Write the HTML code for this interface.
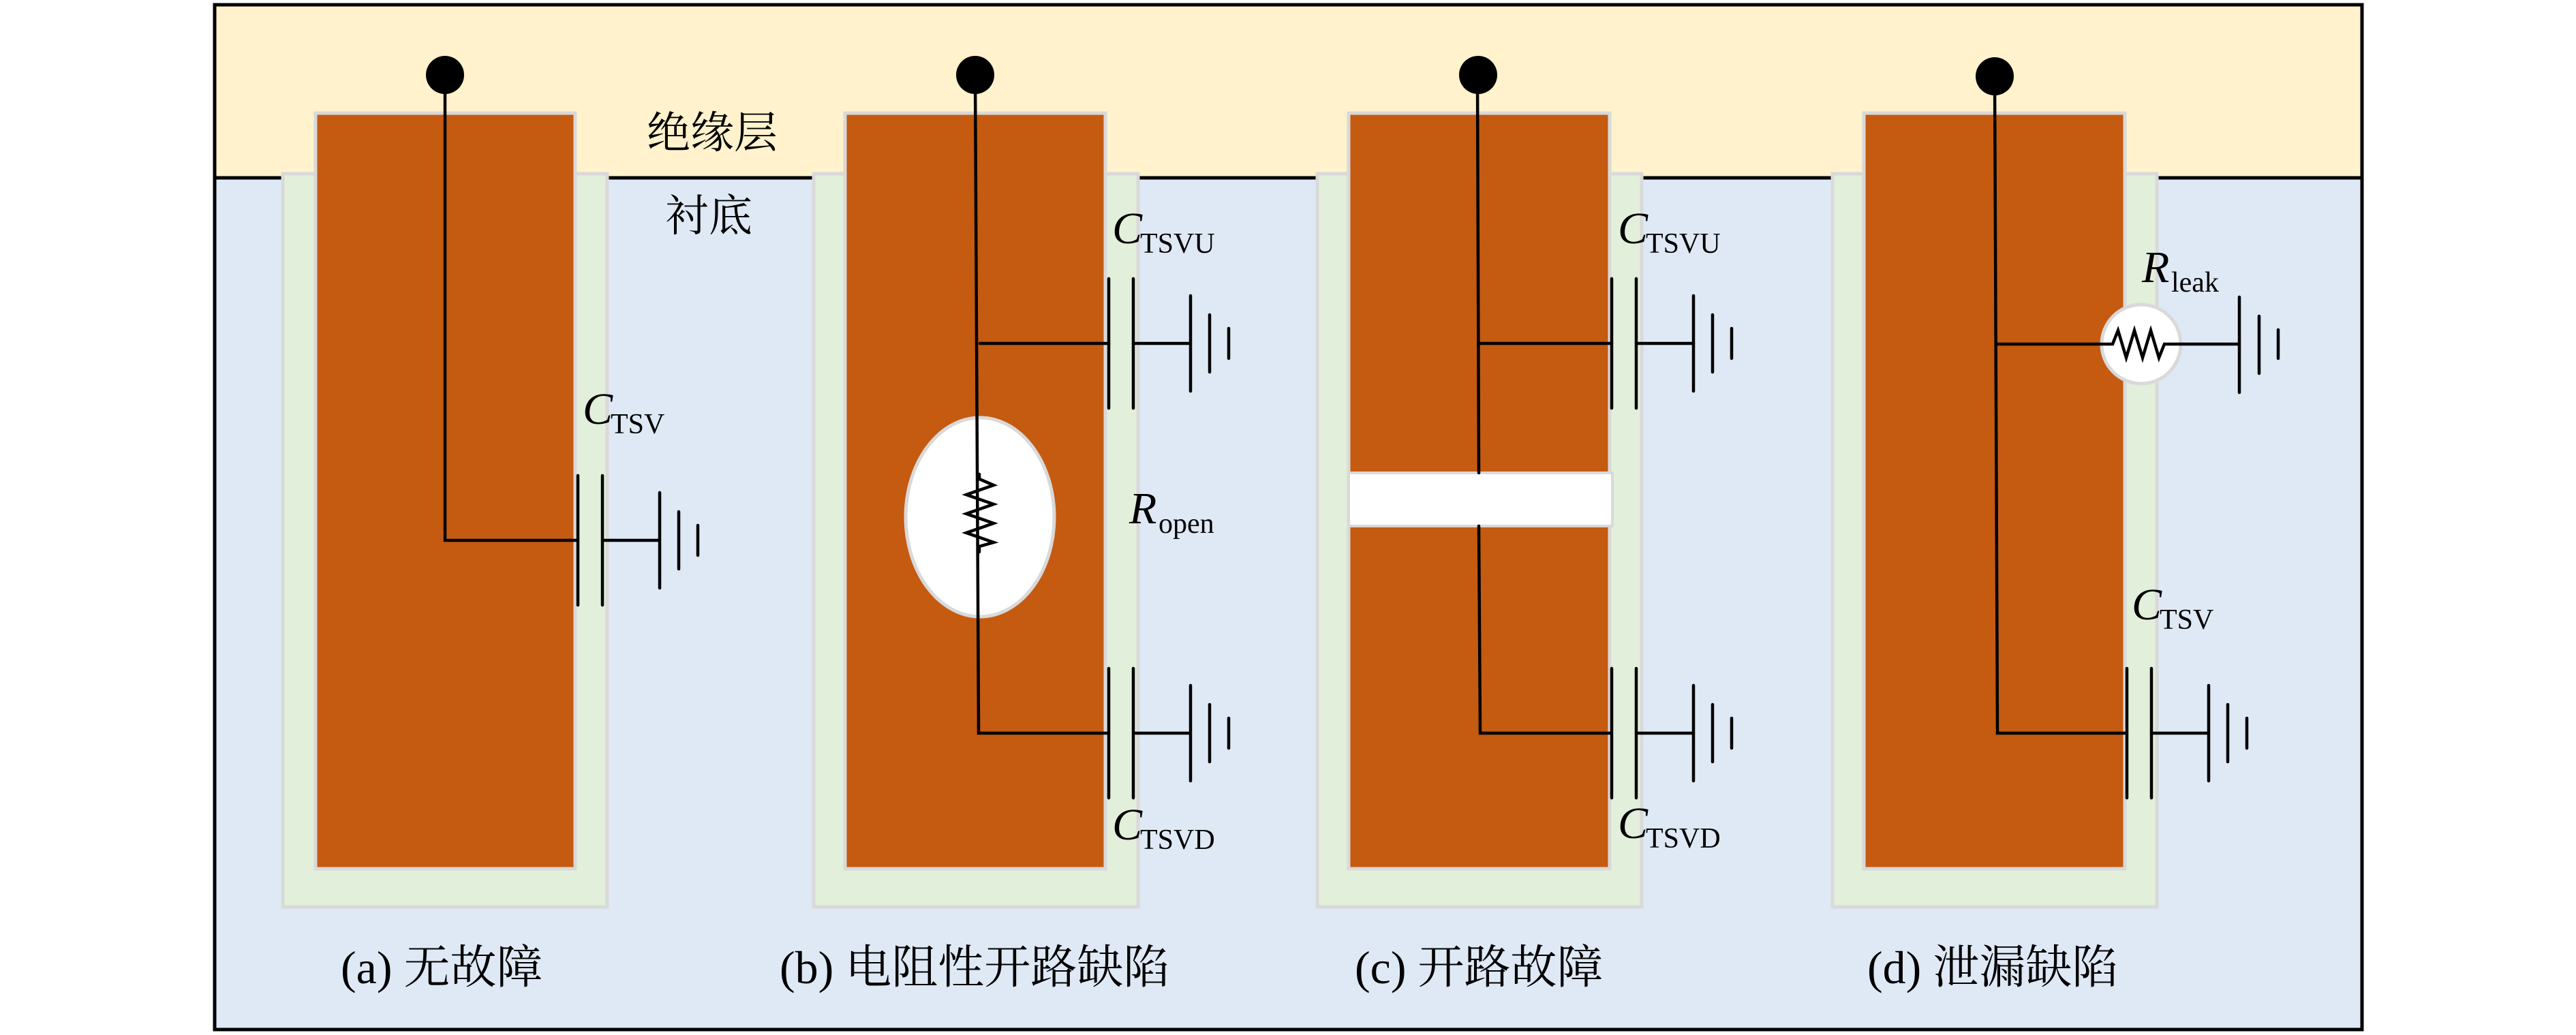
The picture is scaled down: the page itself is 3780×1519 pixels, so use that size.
<!DOCTYPE html>
<html><head><meta charset="utf-8"><style>
html,body{margin:0;padding:0;background:#fff}
svg{display:block}
.z{font-family:"Liberation Serif","Noto Serif CJK SC",serif}
.cn{font-family:"Liberation Serif","Noto Serif CJK SC",serif;font-size:64px}
.cap{font-size:68px}
</style></head><body>
<svg width="3780" height="1519" viewBox="0 0 3780 1519" xmlns="http://www.w3.org/2000/svg">
<rect x="315" y="7" width="3151" height="254" fill="#fff2cc"/>
<rect x="315" y="261" width="3151" height="1250" fill="#dee9f5"/>
<line x1="315" y1="261" x2="3466" y2="261" stroke="#000" stroke-width="5"/>
<rect x="315" y="7" width="3151" height="1504" fill="none" stroke="#000" stroke-width="5"/>

<g fill="#e2efda" stroke="#d9d9d9" stroke-width="5">
<rect x="415" y="255" width="476" height="1076"/>
<rect x="1194" y="255" width="476" height="1076"/>
<rect x="1933" y="255" width="476" height="1076"/>
<rect x="2689" y="255" width="476" height="1076"/>
</g>
<g fill="#c55a11" stroke="#d9d9d9" stroke-width="5">
<rect x="463" y="166" width="381" height="1109"/>
<rect x="1240" y="166" width="382" height="1109"/>
<rect x="1979" y="166" width="383" height="1109"/>
<rect x="2735" y="166" width="383" height="1109"/>
</g>
<rect x="1979" y="694" width="387" height="78" fill="#fff" stroke="#d9d9d9" stroke-width="4"/>
<ellipse cx="1438" cy="759" rx="109" ry="146" fill="#fff" stroke="#d9d9d9" stroke-width="5"/>
<circle cx="3142" cy="505" r="58" fill="#fff" stroke="#d9d9d9" stroke-width="5"/>

<g stroke="#000" stroke-width="4.5" fill="none" stroke-linecap="round">
<polyline points="653,110 653,793 848,793"/>
<line x1="848" y1="698" x2="848" y2="888"/><line x1="884" y1="698" x2="884" y2="888"/>
<line x1="884" y1="793" x2="968" y2="793"/>
<line x1="968" y1="723" x2="968" y2="863"/><line x1="996" y1="751" x2="996" y2="835"/><line x1="1024" y1="771" x2="1024" y2="815"/>
<polyline points="1431,110 1436,1076 1627,1076"/>
<line x1="1438" y1="504" x2="1627" y2="504"/>
<polyline points="1437,696 1437,703 1458,712 1418,726 1458,740 1418,754 1458,768 1418,782 1458,796 1437,802 1437,810"/>
<g id="cap"><line x1="1627" y1="409" x2="1627" y2="599"/><line x1="1663" y1="409" x2="1663" y2="599"/>
<line x1="1663" y1="504" x2="1747" y2="504"/>
<line x1="1747" y1="434" x2="1747" y2="574"/><line x1="1775" y1="462" x2="1775" y2="546"/><line x1="1803" y1="482" x2="1803" y2="526"/></g>
<use href="#cap" transform="translate(0,572)"/>
<polyline points="2168,112 2170,694"/>
<polyline points="2170,772 2172,1076 2365,1076"/>
<line x1="2170" y1="504" x2="2365" y2="504"/>
<use href="#cap" transform="translate(738,0)"/>
<use href="#cap" transform="translate(738,572)"/>
<polyline points="2927,112 2931,1076 3121,1076"/>
<line x1="2931" y1="505" x2="3086" y2="505"/>
<polyline points="3088,505 3100,505 3108,485 3120,525 3132,485 3144,525 3156,485 3168,525 3176,505 3200,505"/>
<line x1="3200" y1="505" x2="3286" y2="505"/>
<line x1="3286" y1="436" x2="3286" y2="576"/><line x1="3315" y1="464" x2="3315" y2="548"/><line x1="3343" y1="484" x2="3343" y2="526"/>
<use href="#cap" transform="translate(1494,572)"/>
</g>
<g fill="#000">
<circle cx="653" cy="110" r="28"/><circle cx="1431" cy="110" r="28"/>
<circle cx="2169" cy="110" r="28"/><circle cx="2927" cy="112" r="28"/>
</g>

<g class="z" fill="#000">
<text x="855" y="622" font-size="66" font-style="italic">C</text><text x="896" y="636" font-size="42">TSV</text>
<text x="1632" y="357" font-size="66" font-style="italic">C</text><text x="1673" y="371" font-size="42">TSVU</text>
<text x="1632" y="1232" font-size="66" font-style="italic">C</text><text x="1673" y="1246" font-size="42">TSVD</text>
<text x="1657" y="768" font-size="66" font-style="italic">R</text><text x="1700" y="782" font-size="42">open</text>
<text x="2374" y="357" font-size="66" font-style="italic">C</text><text x="2415" y="371" font-size="42">TSVU</text>
<text x="2374" y="1230" font-size="66" font-style="italic">C</text><text x="2415" y="1244" font-size="42">TSVD</text>
<text x="3143" y="414" font-size="66" font-style="italic">R</text><text x="3186" y="428" font-size="42">leak</text>
<text x="3128" y="909" font-size="66" font-style="italic">C</text><text x="3169" y="923" font-size="42">TSV</text>
</g>
<g class="cn" fill="#000">
<text x="949" y="217">绝缘层</text>
<text x="976" y="339">衬底</text>
<text class="cap" x="500" y="1443">(a) 无故障</text>
<text class="cap" x="1144" y="1443">(b) 电阻性开路缺陷</text>
<text class="cap" x="1988" y="1443">(c) 开路故障</text>
<text class="cap" x="2740" y="1443">(d) 泄漏缺陷</text>
</g>
</svg>
</body></html>
